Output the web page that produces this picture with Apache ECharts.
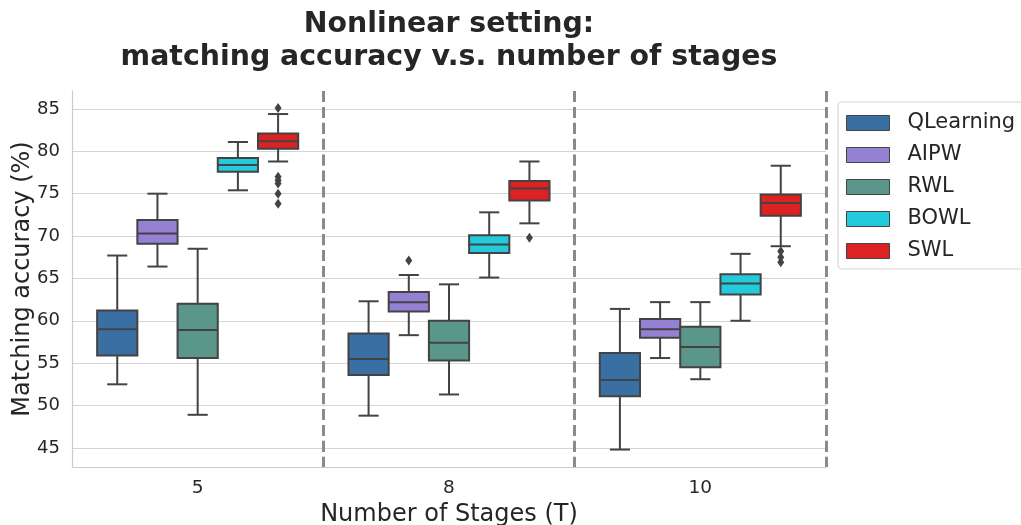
<!DOCTYPE html>
<html>
<head>
<meta charset="utf-8">
<script src="https://cdn.jsdelivr.net/npm/echarts@6/dist/echarts.min.js"></script>
<style>
  html, body { margin: 0; padding: 0; background: #fff; }
  #chart { width: 1021px; height: 525px; }
</style>
</head>
<body>
<div id="chart"></div>
<script>
// number of stages on the x axis
var stages = ['5', '8', '10'];
var methods = ['QLearning', 'AIPW', 'RWL', 'BOWL', 'SWL'];
var colors = ['#3a6fa4', '#9481d4', '#5a968a', '#22cadc', '#dc2222'];

// per stage: [lower whisker, Q1, median, Q3, upper whisker]
var qlearning = [[52.5, 55.9, 59.0, 61.2, 67.7], [48.8, 53.6, 55.5, 58.5, 62.3], [44.8, 51.1, 53.0, 56.2, 61.4]];
var aipw = [[66.4, 69.1, 70.3, 71.9, 75.0], [58.3, 61.1, 62.2, 63.4, 65.4], [55.6, 58.0, 59.0, 60.2, 62.2]];
var rwl = [[48.9, 55.6, 58.9, 62.0, 68.5], [51.3, 55.3, 57.4, 60.0, 64.3], [53.1, 54.5, 56.9, 59.3, 62.2]];
var bowl = [[75.4, 77.6, 78.4, 79.2, 81.1], [65.1, 68.0, 69.0, 70.1, 72.8], [60.0, 63.1, 64.4, 65.5, 67.9]];
var swl = [[78.8, 80.3, 81.2, 82.1, 84.4], [71.5, 74.2, 75.6, 76.5, 78.8], [68.8, 72.4, 73.9, 74.9, 78.3]];

// outliers per stage
var qlearningOut = [[], [], []];
var aipwOut = [[], [67.1], []];
var rwlOut = [[], [], []];
var bowlOut = [[], [], []];
var swlOut = [[85.1, 77.0, 76.6, 76.2, 75.0, 73.8], [69.8], [68.2, 67.5, 66.9]];

var yTicks = [45, 50, 55, 60, 65, 70, 75, 80, 85];

var boxes = [qlearning, aipw, rwl, bowl, swl];
var outs = [qlearningOut, aipwOut, rwlOut, bowlOut, swlOut];
var edge = '#434343';
var font = 'DejaVu Sans';

function makeRender(hue, outliers) {
  return function (params, api) {
    var ci = api.value(0);
    var band = api.size([1, 0])[0];
    var w = band * 0.8 / methods.length;
    var cx = api.coord([ci, 60])[0] + (hue - (methods.length - 1) / 2) * w;
    var y = [1, 2, 3, 4, 5].map(function (d) { return api.coord([ci, api.value(d)])[1]; });
    var ls = { stroke: edge, lineWidth: 2 };
    var half = w / 2, cap = w / 4;
    var kids = [
      { type: 'line', shape: { x1: cx, y1: y[0], x2: cx, y2: y[1] }, style: ls },
      { type: 'line', shape: { x1: cx, y1: y[3], x2: cx, y2: y[4] }, style: ls },
      { type: 'line', shape: { x1: cx - cap, y1: y[0], x2: cx + cap, y2: y[0] }, style: ls },
      { type: 'line', shape: { x1: cx - cap, y1: y[4], x2: cx + cap, y2: y[4] }, style: ls },
      { type: 'rect', shape: { x: cx - half, y: y[3], width: w, height: y[1] - y[3] },
        style: { fill: api.visual('color'), stroke: edge, lineWidth: 2 } },
      { type: 'line', shape: { x1: cx - half, y1: y[2], x2: cx + half, y2: y[2] }, style: ls }
    ];
    outliers[params.dataIndex].forEach(function (v) {
      var oy = api.coord([ci, v])[1];
      kids.push({ type: 'polygon',
        shape: { points: [[cx, oy - 5], [cx + 3.5, oy], [cx, oy + 5], [cx - 3.5, oy]] },
        style: { fill: edge } });
    });
    return { type: 'group', children: kids };
  };
}

var series = methods.map(function (name, h) {
  return {
    name: name,
    type: 'custom',
    renderItem: makeRender(h, outs[h]),
    itemStyle: { color: colors[h] },
    encode: { x: 0, y: [1, 2, 3, 4, 5] },
    data: boxes[h].map(function (b, i) { return [i].concat(b); })
  };
});

var chart = echarts.init(document.getElementById('chart'));
chart.setOption({
  animation: false,
  backgroundColor: '#ffffff',
  textStyle: { fontFamily: font, color: '#262626' },
  title: {
    text: 'Nonlinear setting:\nmatching accuracy v.s. number of stages',
    left: 449,
    top: 8,
    padding: 0,
    textAlign: 'center',
    textStyle: { fontFamily: font, fontSize: 28.4, fontWeight: 'bold', lineHeight: 33, color: '#262626' }
  },
  legend: {
    data: methods,
    orient: 'vertical',
    left: 838,
    top: 102,
    padding: [10, 10, 7, 8],
    itemWidth: 43,
    itemHeight: 15,
    itemGap: 10,
    icon: 'rect',
    borderColor: '#d6d6d6',
    borderWidth: 1.2,
    borderRadius: 4,
    backgroundColor: '#fff',
    itemStyle: { borderColor: edge, borderWidth: 1 },
    textStyle: { fontFamily: font, fontSize: 21, lineHeight: 22, color: '#262626', padding: [0, 0, 0, 13] }
  },
  grid: { left: 72, right: 195, top: 91, bottom: 58, outerBoundsMode: 'none' },
  xAxis: {
    type: 'category',
    data: stages,
    boundaryGap: true,
    name: 'Number of Stages (T)',
    nameLocation: 'middle',
    nameGap: 36,
    nameMoveOverlap: false,
    nameTextStyle: { fontFamily: font, fontSize: 24, color: '#262626' },
    axisLine: { show: true, lineStyle: { color: '#cccccc', width: 1.2 } },
    axisTick: { show: false },
    axisLabel: { fontFamily: font, fontSize: 18.5, color: '#262626', margin: 12 },
    splitLine: {
      show: true,
      showMinLine: false,
      lineStyle: { color: '#8a8a8a', width: 3, type: [11.1, 4.8] }
    }
  },
  yAxis: {
    type: 'value',
    min: 42.74,
    max: 87.12,
    minInterval: 5,
    maxInterval: 5,
    name: 'Matching accuracy (%)',
    nameLocation: 'middle',
    nameGap: 37,
    nameMoveOverlap: false,
    nameTextStyle: { fontFamily: font, fontSize: 24, color: '#262626' },
    axisLine: { show: true, lineStyle: { color: '#cccccc', width: 1.2 } },
    axisTick: { show: false },
    axisLabel: {
      fontFamily: font, fontSize: 18, color: '#262626', margin: 12,
      showMinLabel: false, showMaxLabel: false,
      formatter: function (v) { return yTicks.indexOf(v) >= 0 ? String(v) : ''; }
    },
    splitLine: {
      show: true,
      showMinLine: false,
      showMaxLine: false,
      lineStyle: { color: '#d4d4d4', width: 1.2 }
    }
  },
  series: series
});
</script>
</body>
</html>
